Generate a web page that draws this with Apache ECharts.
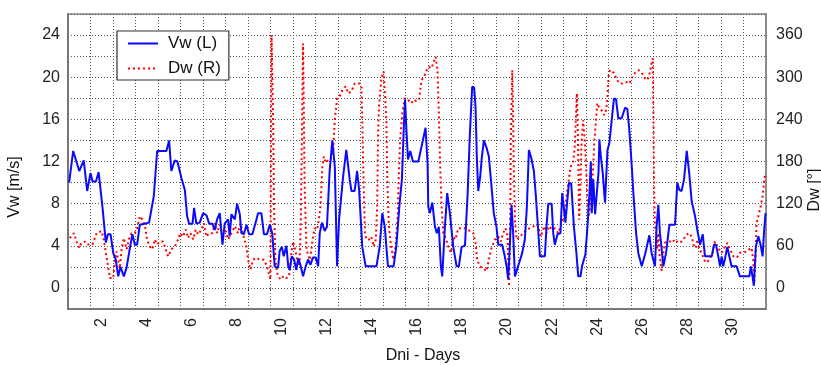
<!DOCTYPE html>
<html>
<head>
<meta charset="utf-8">
<script src="https://cdn.jsdelivr.net/npm/echarts@6/dist/echarts.min.js"></script>
<style>
html,body{margin:0;padding:0;background:#fff;}
#chart{width:821px;height:365px;}
</style>
</head>
<body>
<div id="chart"></div>
<script>
// Wind speed Vw [m/s] (left axis): day, value
const vwDay = [0.55,0.73,1.00,1.06,1.20,1.35,1.50,1.59,1.74,1.86,2.03,2.18,2.27,2.39,2.51,2.62,2.73,2.83,2.98,3.10,3.25,3.36,3.47,3.57,3.69,3.91,4.10,4.31,4.46,4.72,4.87,4.99,5.09,5.24,5.36,5.54,5.69,5.79,5.88,6.03,6.10,6.20,6.35,6.50,6.65,6.77,6.91,7.02,7.12,7.24,7.36,7.46,7.54,7.61,7.68,7.76,7.91,8.01,8.13,8.20,8.31,8.43,8.54,8.69,8.87,8.94,9.09,9.20,9.34,9.46,9.57,9.68,9.83,9.90,10.00,10.08,10.20,10.28,10.35,10.44,10.54,10.64,10.73,10.82,10.94,11.06,11.16,11.27,11.38,11.50,11.61,11.68,11.78,11.90,12.00,12.12,12.24,12.35,12.45,12.54,12.72,12.86,13.01,13.09,13.23,13.34,13.43,13.57,13.72,13.97,14.20,14.34,14.46,14.57,14.64,14.71,14.96,15.08,15.23,15.33,15.41,15.47,15.53,15.60,15.70,15.82,15.97,16.06,16.20,16.38,16.47,16.50,16.57,16.68,16.80,16.88,16.97,17.06,17.12,17.24,17.34,17.46,17.61,17.76,17.86,17.98,18.13,18.25,18.35,18.45,18.54,18.60,18.66,18.72,18.81,18.87,18.97,19.09,19.19,19.31,19.41,19.53,19.61,19.78,19.90,19.98,20.05,20.12,20.20,20.27,20.35,20.49,20.67,20.79,20.88,20.97,21.09,21.19,21.28,21.35,21.46,21.68,21.75,21.83,21.98,22.05,22.12,22.24,22.37,22.45,22.52,22.59,22.68,22.75,22.85,22.97,23.08,23.16,23.26,23.33,23.48,23.57,23.66,23.72,23.76,23.83,23.91,23.98,24.06,24.10,24.16,24.25,24.35,24.46,24.54,24.65,24.75,24.84,24.94,25.09,25.24,25.34,25.43,25.54,25.61,25.73,25.83,25.98,26.13,26.32,26.42,26.57,26.64,26.72,26.79,26.87,26.94,27.06,27.21,27.46,27.56,27.65,27.75,27.86,27.98,28.09,28.20,28.35,28.45,28.57,28.69,28.79,28.89,29.09,29.19,29.28,29.38,29.46,29.53,29.60,29.68,29.78,29.87,29.97,30.20,30.34,30.64,30.76,30.83,30.90,30.96,31.05,31.16,31.26,31.35,31.41,31.48];
const vwSpeed = [10.0,13.0,11.1,11.1,12.1,9.2,10.9,10.1,10.1,11.0,7.7,4.3,5.1,5.1,3.3,2.7,1.1,2.0,1.1,1.9,3.8,5.1,4.1,4.1,6.0,6.1,6.2,8.7,13.0,13.0,13.0,14.0,11.1,12.1,12.0,10.4,9.3,6.8,6.1,6.1,7.6,6.1,6.2,7.1,6.9,6.1,6.1,5.5,6.5,7.1,4.1,6.1,6.0,6.5,4.9,7.0,6.5,8.0,7.0,5.2,5.1,6.0,5.1,5.1,6.5,7.1,7.1,5.1,5.1,6.0,5.2,2.05,1.9,3.5,3.9,3.0,4.0,2.05,1.7,3.0,2.7,1.7,2.8,2.2,1.1,2.05,2.7,2.2,2.9,2.9,2.05,5.2,6.2,5.4,5.8,11.1,14.0,11.5,2.05,6.5,10.6,13.1,10.3,9.2,9.2,11.1,9.3,3.9,2.05,2.05,2.05,3.9,7.1,5.8,3.9,2.05,2.05,3.9,8.1,10.3,15.0,17.9,15.0,12.2,13.0,12.0,12.0,12.0,13.4,15.2,11.8,7.7,7.1,8.1,5.8,5.2,5.8,2.05,1.1,5.8,9.0,7.1,3.9,2.05,2.05,3.9,4.0,9.0,14.7,19.1,19.0,17.2,12.2,9.2,10.6,12.2,14.0,13.3,12.5,9.6,7.1,5.8,4.1,4.1,3.0,2.05,0.8,3.9,7.9,5.2,1.1,2.05,3.3,4.6,7.7,13.1,12.2,11.1,8.7,6.5,3.0,3.0,5.8,8.0,8.0,5.2,4.1,5.1,5.2,9.0,7.7,6.2,8.4,10.0,9.9,5.8,3.3,1.1,1.1,2.05,3.2,5.8,9.0,12.0,7.1,10.3,7.0,7.1,10.9,14.1,12.6,10.9,8.1,13.1,13.7,16.0,18.0,17.9,16.1,16.1,17.1,17.0,15.0,11.5,9.0,5.2,3.3,2.05,3.2,5.0,3.3,2.05,5.8,7.9,5.2,3.6,2.05,3.3,6.0,6.0,10.0,9.3,9.2,10.3,13.0,10.9,8.2,6.8,5.5,4.1,5.1,3.0,3.0,3.0,4.1,4.1,3.0,2.05,3.0,2.05,2.8,3.9,3.0,2.05,2.05,1.1,1.1,1.1,2.05,1.1,0.2,3.9,4.9,4.1,3.0,5.2,7.1];

// Wind direction Dw [deg] (right axis): day, value
const dwDay = [0.58,0.76,0.88,1.00,1.10,1.25,1.35,1.59,1.77,1.99,2.09,2.18,2.28,2.36,2.51,2.58,2.65,2.73,2.80,2.88,2.98,3.10,3.22,3.32,3.47,3.57,3.69,3.81,3.91,4.01,4.13,4.25,4.36,4.46,4.58,4.72,4.84,4.95,5.09,5.24,5.39,5.49,5.61,5.73,5.83,5.94,6.06,6.17,6.28,6.43,6.53,6.65,6.77,6.91,7.02,7.12,7.24,7.36,7.51,7.61,7.76,7.91,8.05,8.16,8.28,8.42,8.50,8.60,8.72,8.87,9.02,9.20,9.34,9.43,9.49,9.54,9.61,9.65,9.71,9.79,9.93,10.08,10.20,10.32,10.42,10.50,10.62,10.72,10.79,10.84,10.94,11.01,11.09,11.24,11.31,11.38,11.46,11.56,11.64,11.71,11.80,11.86,11.95,12.05,12.15,12.27,12.35,12.45,12.57,12.69,12.83,12.94,13.09,13.23,13.46,13.53,13.57,13.63,13.69,13.75,13.87,13.97,14.08,14.17,14.23,14.27,14.31,14.42,14.52,14.59,14.64,14.68,14.75,14.85,14.96,15.05,15.14,15.20,15.26,15.35,15.45,15.60,15.75,15.85,15.97,16.09,16.20,16.32,16.43,16.53,16.65,16.72,16.83,16.91,16.97,17.02,17.09,17.17,17.27,17.39,17.51,17.61,17.71,17.83,17.98,18.13,18.35,18.50,18.60,18.67,18.79,18.94,19.09,19.19,19.31,19.46,19.61,19.72,19.83,19.93,20.02,20.05,20.09,20.14,20.17,20.23,20.26,20.30,20.35,20.42,20.57,20.72,20.86,21.01,21.20,21.35,21.50,21.65,21.75,21.87,22.00,22.12,22.27,22.42,22.54,22.64,22.74,22.83,22.93,23.01,23.05,23.10,23.13,23.16,23.20,23.26,23.30,23.38,23.45,23.53,23.60,23.67,23.75,23.82,23.88,23.95,24.01,24.10,24.20,24.31,24.40,24.46,24.51,24.57,24.65,24.75,24.87,25.02,25.17,25.31,25.43,25.54,25.68,25.83,25.93,26.05,26.17,26.28,26.35,26.42,26.47,26.50,26.53,26.57,26.62,26.67,26.72,26.76,26.82,26.87,26.94,27.01,27.12,27.24,27.36,27.46,27.56,27.68,27.83,27.98,28.09,28.20,28.30,28.39,28.45,28.54,28.64,28.75,28.86,28.98,29.13,29.23,29.31,29.42,29.53,29.68,29.78,29.90,30.05,30.20,30.34,30.49,30.64,30.76,30.86,30.93,30.98,31.04,31.08,31.16,31.26,31.35,31.41,31.47];
const dwDir = [71,78,66,57,64,66,62,62,78,81,69,50,31,14,14,40,52,40,28,55,71,55,71,78,78,85,102,97,90,69,59,55,69,62,66,66,55,45,55,59,69,78,73,83,71,78,69,83,76,83,92,73,78,78,92,78,90,76,81,69,78,88,78,92,76,59,40,26,40,43,40,40,31,19,12,360,239,116,40,21,12,17,14,17,50,66,50,31,40,97,348,145,55,40,55,73,85,83,97,116,173,187,178,182,182,192,239,270,273,282,287,277,280,291,291,287,239,145,78,69,69,73,59,69,116,216,258,299,308,306,239,154,88,59,40,59,102,168,216,249,270,268,263,268,266,268,296,301,310,315,313,320,329,310,249,182,116,78,71,59,50,73,69,85,85,85,81,78,64,40,31,28,24,40,57,69,73,66,78,85,73,40,2,97,216,310,263,168,97,69,73,78,83,85,88,90,73,88,78,88,83,85,78,92,102,130,154,173,178,201,239,277,239,192,97,145,201,239,211,159,97,110,130,170,210,239,263,256,253,246,253,273,301,310,308,306,296,291,291,293,291,299,306,310,308,303,296,299,308,320,327,239,145,88,78,55,78,50,36,24,50,64,66,66,69,64,66,64,69,76,78,73,59,57,69,55,50,40,36,40,50,66,64,55,50,59,64,55,45,43,50,50,52,55,57,40,7,50,92,102,116,130,149,164];

// Axis tick labels
const dayLabels = [2,4,6,8,10,12,14,16,18,20,22,24,26,28,30];
const speedLabels = [0,4,8,12,16,20,24];
const dirLabels = [0,60,120,180,240,300,360];

const zip = (a, b) => a.map((v, i) => [v, b[i]]);

const chart = echarts.init(document.getElementById('chart'), null, {renderer: 'canvas'});
const FONT = 'Liberation Sans, Arial, sans-serif';
const gridLine = {show: true, lineStyle: {color: '#555', type: [1, 2], width: 1}};

chart.setOption({
  animation: false,
  backgroundColor: '#fff',
  textStyle: {fontFamily: FONT},
  grid: {left: 68, right: 55, top: 14, bottom: 56, show: true, borderColor: '#888', borderWidth: 1.5, backgroundColor: '#fff'},
  legend: {
    left: 117, top: 31, orient: 'vertical',
    backgroundColor: '#fff', borderColor: '#333', borderWidth: 1.2,
    padding: [4, 8, 3, 10], itemGap: 8, itemWidth: 30, itemHeight: 14,
    itemStyle: {opacity: 0},
    textStyle: {fontSize: 17, color: '#111', fontFamily: FONT, padding: [0, 0, 0, 5]},
    data: ['Vw (L)', 'Dw (R)']
  },
  xAxis: [
    {
      type: 'value', min: 0.5, max: 31.5, position: 'bottom',
      axisLine: {show: true, onZero: false, lineStyle: {color: '#777', width: 2}},
      axisTick: {show: false},
      splitLine: {show: false},
      axisLabel: {customValues: dayLabels, rotate: 90, margin: 9, fontSize: 16, color: '#222', fontFamily: FONT}
    },
    {
      type: 'value', min: 0, max: 31, interval: 1, position: 'bottom',
      axisLine: {show: false},
      axisTick: {show: true, length: 3, lineStyle: {color: '#555'}},
      axisLabel: {show: false},
      splitLine: gridLine
    }
  ],
  yAxis: [
    {
      type: 'value', min: -2, max: 26, interval: 2, position: 'left',
      axisLine: {show: true, onZero: false, lineStyle: {color: '#777', width: 2}},
      axisTick: {show: false},
      splitLine: gridLine,
      axisLabel: {margin: 8, fontSize: 16, color: '#222', fontFamily: FONT,
        formatter: v => speedLabels.indexOf(v) >= 0 ? String(v) : ''}
    },
    {
      type: 'value', min: -30, max: 390, interval: 30, position: 'right',
      axisLine: {show: true, onZero: false, lineStyle: {color: '#888', width: 1.5}},
      axisTick: {show: false},
      splitLine: {show: false},
      axisLabel: {margin: 10, fontSize: 16, color: '#222', fontFamily: FONT,
        formatter: v => dirLabels.indexOf(v) >= 0 ? String(v) : ''}
    }
  ],
  graphic: [
    {type: 'text', x: 15, y: 187, rotation: Math.PI / 2,
      style: {text: 'Vw [m/s]', font: '16px ' + FONT, fill: '#111', textAlign: 'center', textVerticalAlign: 'middle'}},
    {type: 'text', x: 815, y: 190, rotation: Math.PI / 2,
      style: {text: 'Dw [°]', font: '16px ' + FONT, fill: '#111', textAlign: 'center', textVerticalAlign: 'middle'}},
    {type: 'text', x: 423, y: 356,
      style: {text: 'Dni - Days', font: '16px ' + FONT, fill: '#111', textAlign: 'center', textVerticalAlign: 'middle'}}
  ],
  series: [
    {
      name: 'Dw (R)', type: 'line', xAxisIndex: 0, yAxisIndex: 1,
      data: zip(dwDay, dwDir), symbol: 'none', z: 2,
      itemStyle: {color: '#ff0000'},
      lineStyle: {color: '#ff0000', width: 2, type: [2, 3]}
    },
    {
      name: 'Vw (L)', type: 'line', xAxisIndex: 0, yAxisIndex: 0,
      data: zip(vwDay, vwSpeed), symbol: 'none', z: 3,
      itemStyle: {color: '#0a0aff'},
      lineStyle: {color: '#0a0aff', width: 2}
    }
  ]
});
</script>
</body>
</html>
